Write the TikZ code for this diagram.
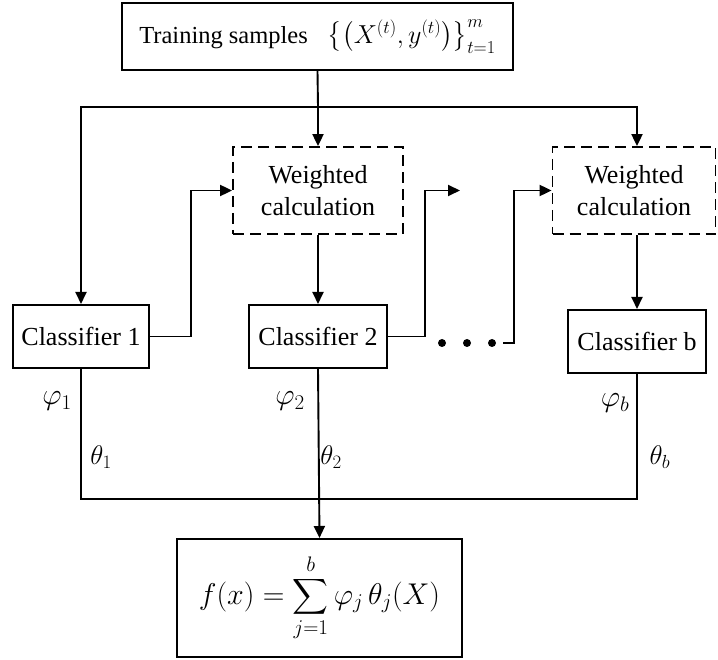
\RequirePackage{fix-cm}
\documentclass[tikz,border=0pt]{standalone}
\usepackage{amsmath}
\usepackage{exscale}
\usepackage{fontspec}
\setmainfont{Liberation Serif}
\usetikzlibrary{arrows.meta}
\begin{document}
\begin{tikzpicture}[x=1pt,y=-1pt,
  box/.style={draw,line width=2pt,inner sep=0pt,align=center,
    font=\fontsize{26}{32}\selectfont},
  dbox/.style={box,line width=1.8pt,dash pattern=on 11pt off 6pt},
  conn/.style={line width=1.9pt},
  arr/.style={conn,-{Triangle[length=12pt,width=11pt]}},
  lbl/.style={font=\fontsize{30}{34}\selectfont,inner sep=0pt},
  tlbl/.style={font=\fontsize{27}{30}\selectfont,inner sep=0pt},
  dot/.style={circle,fill,inner sep=0pt,minimum size=8pt}]
\useasboundingbox (0,0) rectangle (718,660);
% nodes
\node[box,minimum width=391pt,minimum height=67pt,font=\fontsize{24.5}{30}\selectfont] (top) at (317.5,36.5)
  {Training samples\hspace{20pt}\fontsize{26}{30}\selectfont$\bigl\{\bigl(X^{(t)},y^{(t)}\bigr)\bigr\}_{t=1}^{m}$};
\node[dbox,minimum width=170pt,minimum height=87pt] (wc1) at (318,190.5) {Weighted\\calculation};
\node[dbox,minimum width=163pt,minimum height=87pt] (wc2) at (634,190.5) {Weighted\\calculation};
\node[box,minimum width=136pt,minimum height=63pt] (c1) at (81,336.5) {Classifier 1};
\node[box,minimum width=138pt,minimum height=63pt] (c2) at (318,336.5) {Classifier 2};
\node[box,minimum width=138pt,minimum height=63pt] (cb) at (637,341.5) {Classifier b};
\node[box,minimum width=285pt,minimum height=118pt,font=\fontsize{30}{34}\selectfont] (fin) at (319.5,598)
  {$\displaystyle f(x)=\sum_{j=1}^{b}\varphi_j\,\theta_j(X)$};
\node[dot] (d1) at (442,343) {};
\node[dot] (d2) at (467,343) {};
\node[dot] (d3) at (492,343) {};
% coordinates
\coordinate (jn) at (318,107);
\coordinate (e2) at (460,190.5);
\coordinate (s3) at (503,343);
\coordinate (jb) at (318,499);
% connectors
\draw[conn] (top.south) -- (jn);
\draw[arr] (jn) -- (wc1.north);
\draw[arr] (jn) -| (c1.north);
\draw[arr] (jn) -| (cb.north |- wc2.north);
\draw[arr] (c1.east) -- ++(41,0) |- (wc1.west);
\draw[arr] (wc1.south) -- (c2.north);
\draw[arr] (c2.east) -- ++(37,0) |- (e2);
\draw[arr] (s3) -- ++(11,0) |- (wc2.west);
\draw[arr] (cb.north |- wc2.south) -- (cb.north);
\draw[conn] (c1.south) |- (jb);
\draw[conn] (cb.south) |- (jb);
\draw[arr] (c2.south) -- (fin.north);
% labels
\node[lbl] (p1) at (57,401) {$\varphi_1$};
\node[lbl] (p2) at (290,401) {$\varphi_2$};
\node[lbl] (pb) at (615,403) {$\varphi_b$};
\node[tlbl] (t1) at (101,457) {$\theta_1$};
\node[tlbl] (t2) at (331,457) {$\theta_2$};
\node[tlbl] (tb) at (660,457) {$\theta_b$};
\end{tikzpicture}
\end{document}
